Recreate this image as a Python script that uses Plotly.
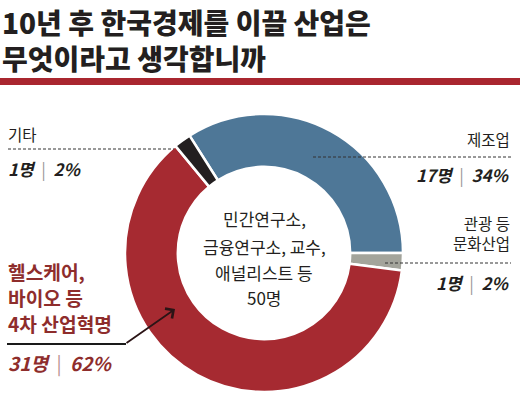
import plotly.graph_objects as go

W, H = 520, 395

# ---- data ----
categories = ["제조업", "관광 등 문화산업", "헬스케어, 바이오 등 4차 산업혁명", "기타"]
counts = [17, 1, 31, 1]
percents = [34, 2, 62, 2]
slice_colors = ["#4E7797", "#A3A49B", "#A62A31", "#231F20"]
title_lines = ["10년 후 한국경제를 이끌 산업은", "무엇이라고 생각합니까"]
center_lines = ["민간연구소,", "금융연구소, 교수,", "애널리스트 등", "50명"]
label_lines = {
    0: ["제조업"],
    1: ["관광 등", "문화산업"],
    2: ["헬스케어,", "바이오 등", "4차 산업혁명"],
    3: ["기타"],
}

FONT = "Noto Sans CJK KR"
DARK = "#231F20"
RED_TXT = "#8E2D2C"


def px(x):
    return x / W


def py(y):
    return 1 - y / H


def stat(i, sep_color="#9a9a9a"):
    return (f"<b><i>{counts[i]}명</i></b>  <span style='color:{sep_color}'>|</span>  "
            f"<b><i>{percents[i]}%</i></b>")


fig = go.Figure()
fig.add_trace(go.Pie(
    labels=categories,
    values=percents,
    sort=False,
    direction="clockwise",
    rotation=-32.4,
    hole=0.62,
    marker=dict(colors=slice_colors, line=dict(color="white", width=2.5)),
    textinfo="none",
    hoverinfo="label+value",
    showlegend=False,
    domain=dict(x=[px(125), px(403)], y=[py(392), py(114)]),
))

ann = []


def add_text(text, x, y, size, color=DARK, xanchor="left", bold=False, weight=None,
             yanchor="middle"):
    t = f"<b>{text}</b>" if bold else text
    f = dict(family=FONT, size=size, color=color)
    if weight:
        f["weight"] = weight
    ann.append(dict(text=t, x=px(x), y=py(y), xref="paper", yref="paper",
                    xanchor=xanchor, yanchor=yanchor, showarrow=False,
                    align="left" if xanchor == "left" else ("right" if xanchor == "right" else "center"),
                    font=f))


# title (two lines in one block)
add_text("<br>".join(title_lines), 0, 0, 28, weight=900, yanchor="top")

# center
for line, y in zip(center_lines, [219, 246, 272, 297]):
    add_text(line, 264, y, 17, xanchor="center")

# 기타
add_text(label_lines[3][0], 6, 134, 15.5)
add_text(stat(3), 6, 168, 17)

# 제조업
add_text(label_lines[0][0], 512, 139, 15.5, xanchor="right")
add_text(stat(0), 512, 175, 17, xanchor="right")

# 관광 등 문화산업
add_text("<br>".join(label_lines[1]), 512, 232.5, 15.5, xanchor="right")
add_text(stat(1), 512, 282, 17, xanchor="right")

# 헬스케어
for line, y in zip(label_lines[2], [272, 298, 324]):
    add_text(line, 6, y, 19.2, color=RED_TXT, bold=True)
ann.append(dict(text=stat(2, "#b89090"),
                x=px(6), y=py(363), xref="paper", yref="paper",
                xanchor="left", yanchor="middle", showarrow=False,
                font=dict(family=FONT, size=19, color=RED_TXT)))

# arrow
ann.append(dict(text="", x=px(175), y=py(309), xref="paper", yref="paper",
                ax=-50, ay=35, axref="pixel", ayref="pixel",
                showarrow=True, arrowhead=4, arrowsize=1.3, arrowwidth=1.8,
                arrowcolor="#2B1416"))

shapes = [
    # red rule
    dict(type="rect", xref="paper", yref="paper", x0=0, x1=1, y0=py(85), y1=py(78),
         fillcolor="#A9262F", line=dict(width=0), layer="above"),
    # dotted leader lines
    dict(type="line", xref="paper", yref="paper", x0=px(8), x1=px(174), y0=py(149), y1=py(149),
         line=dict(color="#333333", width=1, dash="3px,2px")),
    dict(type="line", xref="paper", yref="paper", x0=px(313), x1=px(511), y0=py(157), y1=py(157),
         line=dict(color="#333333", width=1, dash="3px,2px")),
    dict(type="line", xref="paper", yref="paper", x0=px(385), x1=px(511), y0=py(263), y1=py(263),
         line=dict(color="#333333", width=1, dash="3px,2px")),
    # solid underline for 헬스케어 label
    dict(type="line", xref="paper", yref="paper", x0=px(7), x1=px(126), y0=py(344), y1=py(344),
         line=dict(color="#1a1a1a", width=1.8)),
]

fig.update_layout(
    width=W, height=H,
    margin=dict(l=0, r=0, t=0, b=0),
    paper_bgcolor="white",
    plot_bgcolor="white",
    annotations=ann,
    shapes=shapes,
    font=dict(family=FONT),
)

fig.write_html("out.html", config={"displayModeBar": False},
               post_script="document.body.style.margin='0';document.body.style.overflow='hidden';")
